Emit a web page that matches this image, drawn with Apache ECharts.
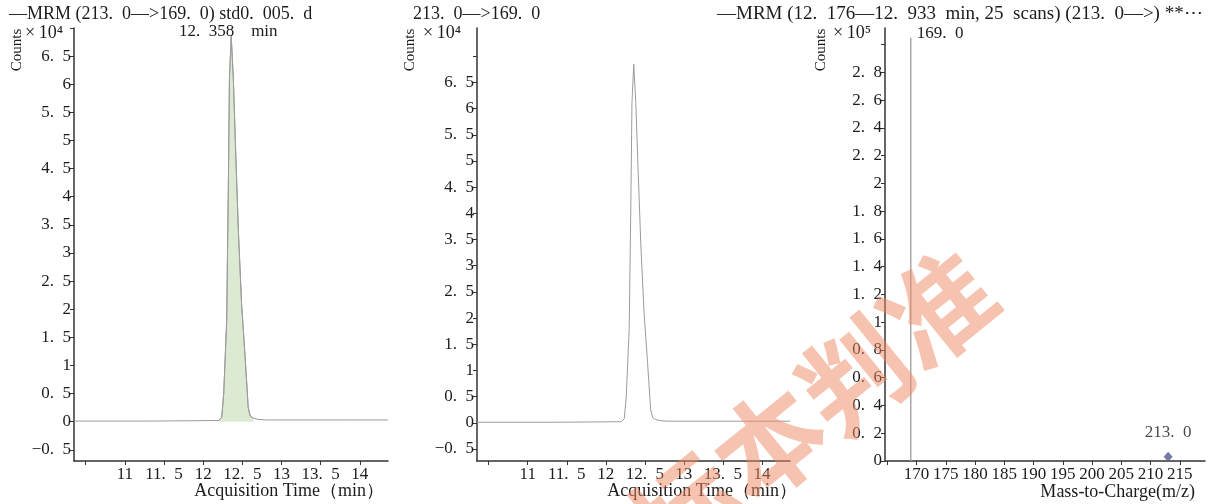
<!DOCTYPE html>
<html>
<head>
<meta charset="utf-8">
<script src="https://cdn.jsdelivr.net/npm/echarts@6/dist/echarts.min.js"></script>
<style>
  html, body { margin: 0; padding: 0; background: #ffffff; }
  #chart { width: 1219px; height: 504px; }
</style>
</head>
<body>
<div id="chart"></div>
<script>
// MRM 213.0 -> 169.0 chromatogram: retention time (min) and abundance (x10^4 counts)
const rtTimes  = [10.35, 10.80, 11.30, 11.80, 12.10, 12.200, 12.237, 12.262, 12.300, 12.322, 12.335, 12.358, 12.385, 12.410, 12.449, 12.490, 12.535, 12.575, 12.600, 12.640, 12.700, 12.800, 12.933, 13.30, 13.80, 14.36];
const rtCounts = [0.01, 0.01, 0.01, 0.015, 0.02, 0.02, 0.08, 0.50, 1.80, 4.30, 6.10, 6.85, 6.10, 5.00, 3.40, 2.10, 1.15, 0.25, 0.10, 0.06, 0.04, 0.03, 0.03, 0.03, 0.03, 0.03];

// integrated peak window (min) and apex retention time
const peakWindow = [12.200, 12.640];
const peakRt = 12.358;

// product-ion spectrum, 12.176-12.933 min: m/z and abundance (x10^5 counts)
const mzValues = [169.0, 213.0];
const mzCounts = [3.05, 0.03];

// tick values and labelled ticks
const rtTicks       = [10.5, 11, 11.5, 12, 12.5, 13, 13.5, 14];
const rtTickLabels  = [11, 11.5, 12, 12.5, 13, 13.5, 14];
const countTicksA   = [-0.5, 0, 0.5, 1, 1.5, 2, 2.5, 3, 3.5, 4, 4.5, 5, 5.5, 6, 6.5, 7];
const countLabelsA  = [-0.5, 0, 0.5, 1, 1.5, 2, 2.5, 3, 3.5, 4, 4.5, 5, 5.5, 6, 6.5];
const countTicksB   = [-0.5, 0, 0.5, 1, 1.5, 2, 2.5, 3, 3.5, 4, 4.5, 5, 5.5, 6, 6.5, 7];
const countLabelsB  = [-0.5, 0, 0.5, 1, 1.5, 2, 2.5, 3, 3.5, 4, 4.5, 5, 5.5, 6, 6.5];
const mzTicks       = [165, 170, 175, 180, 185, 190, 195, 200, 205, 210, 215];
const mzTickLabels  = [170, 175, 180, 185, 190, 195, 200, 205, 210, 215];
const specTicks     = [0, 0.2, 0.4, 0.6, 0.8, 1, 1.2, 1.4, 1.6, 1.8, 2, 2.2, 2.4, 2.6, 2.8, 3];
const specLabels    = [0, 0.2, 0.4, 0.6, 0.8, 1, 1.2, 1.4, 1.6, 1.8, 2, 2.2, 2.4, 2.6, 2.8];

const serif = '"Liberation Serif", "Times New Roman", serif';
const ink = '#1c1c1c';
const axisInk = '#333333';
const traceColor = '#9c9c9c';
const SP = '\u2002'; // en space after the decimal stop

// numbers are typeset as "6. 5" with a proper minus sign
function fmt(v) {
  return String(+(+v).toFixed(3)).replace('-', '\u2212').replace('.', '.' + SP);
}
function mzLabel(v) {
  return (+v).toFixed(1).replace('.', '.' + SP);
}

function valueAxis(gridIndex, min, max, ticks, labels, margin, formatter) {
  return {
    type: 'value', gridIndex: gridIndex, min: min, max: max,
    splitLine: { show: false },
    axisLine: { show: true, onZero: false, lineStyle: { color: axisInk, width: 1.5 } },
    axisTick: { show: true, length: 4, customValues: ticks, lineStyle: { color: axisInk, width: 1 } },
    axisLabel: { customValues: labels, formatter: formatter || fmt, color: ink, fontFamily: serif, fontSize: 17, margin: margin }
  };
}

const labelFont = { color: ink, fontFamily: serif, fontSize: 17 };

const rtData = rtTimes.map((t, i) => [t, rtCounts[i]]);
const peakData = rtData
  .filter(p => p[0] >= peakWindow[0] && p[0] <= peakWindow[1])
  .map(p => p[0] === peakRt
    ? { value: p, label: Object.assign({ show: true, position: 'top', distance: 0, offset: [-3, 4],
        formatter: fmt(peakRt) + SP + SP + 'min' }, labelFont) }
    : p);

// fragment ions are drawn as sticks, the residual precursor as a marker
const stickData = [];
const precursor = [];
mzValues.forEach((mz, i) => {
  if (mzCounts[i] > 0.5) {
    stickData.push([mz, 0]);
    stickData.push({ value: [mz, mzCounts[i]],
      label: Object.assign({ show: true, position: 'right', distance: 6, offset: [0, -4], formatter: mzLabel(mz) }, labelFont) });
    stickData.push([mz, null]);
  } else {
    precursor.push([mz, mzCounts[i]]);
  }
});

const chart = echarts.init(document.getElementById('chart'));

const titleFont = '18px ' + serif;
const captionFont = '18px ' + serif;

const option = {
  backgroundColor: '#ffffff',
  animation: false,
  grid: [
    { left: 74,  top: 28, width: 314, height: 433, outerBoundsMode: 'none' },
    { left: 477, top: 28, width: 313, height: 433, outerBoundsMode: 'none' },
    { left: 885, top: 28, width: 320, height: 433, outerBoundsMode: 'none' }
  ],
  xAxis: [
    valueAxis(0, 10.35, 14.36, rtTicks, rtTickLabels, 5),
    valueAxis(1, 10.35, 14.36, rtTicks, rtTickLabels, 5),
    valueAxis(2, 164.6, 219.3, mzTicks, mzTickLabels, 5, v => String(v))
  ],
  yAxis: [
    valueAxis(0, -0.7, 7.0, countTicksA, countLabelsA, 3),
    valueAxis(1, -0.73, 7.54, countTicksB, countLabelsB, 3),
    valueAxis(2, 0, 3.12, specTicks, specLabels, 3)
  ],
  series: [
    {
      type: 'line', xAxisIndex: 0, yAxisIndex: 0, data: rtData, showSymbol: false,
      lineStyle: { color: traceColor, width: 1 }, z: 3
    },
    {
      type: 'line', xAxisIndex: 0, yAxisIndex: 0, data: peakData, showSymbol: true, symbolSize: 0,
      lineStyle: { color: traceColor, width: 1 },
      areaStyle: { color: '#dce9d3', opacity: 1, origin: 0 }, z: 2
    },
    {
      type: 'line', xAxisIndex: 1, yAxisIndex: 1, data: rtData, showSymbol: false,
      lineStyle: { color: traceColor, width: 1 }
    },
    {
      type: 'line', xAxisIndex: 2, yAxisIndex: 2, data: stickData, showSymbol: true, symbolSize: 0, connectNulls: false,
      lineStyle: { color: '#a8a8a8', width: 1.5 }
    },
    {
      type: 'scatter', xAxisIndex: 2, yAxisIndex: 2, data: precursor, symbol: 'diamond', symbolSize: [9, 10],
      itemStyle: { color: '#555a8c' },
      label: Object.assign({ show: true, position: 'top', distance: 11, formatter: p => mzLabel(p.value[0]) }, labelFont)
    }
  ],
  graphic: [
    // panel titles
    { type: 'text', x: 9, y: 14, style: { text: '\u2014MRM (213.' + SP + '0\u2014>169.' + SP + '0) std0.' + SP + '005.' + SP + 'd', font: titleFont, fill: ink, textVerticalAlign: 'middle' } },
    { type: 'text', x: 413, y: 14, style: { text: '213.' + SP + '0\u2014>169.' + SP + '0', font: titleFont, fill: ink, textVerticalAlign: 'middle' } },
    { type: 'text', x: 717, y: 14, style: { text: '\u2014MRM (12.' + SP + '176\u201412.' + SP + '933' + SP + 'min, 25' + SP + 'scans) (213.' + SP + '0\u2014>) **\u22EF', font: '19px ' + serif, fill: ink, textVerticalAlign: 'middle' } },
    // y-axis captions
    { type: 'text', x: 17, y: 50, rotation: Math.PI / 2, style: { text: 'Counts', font: '15px ' + serif, fill: ink, textAlign: 'center', textVerticalAlign: 'middle' } },
    { type: 'text', x: 25, y: 33, style: { text: '\u00D7\u200910\u2074', font: '18px ' + serif, fill: ink, textVerticalAlign: 'middle' } },
    { type: 'text', x: 410, y: 50, rotation: Math.PI / 2, style: { text: 'Counts', font: '15px ' + serif, fill: ink, textAlign: 'center', textVerticalAlign: 'middle' } },
    { type: 'text', x: 423, y: 33, style: { text: '\u00D7\u200910\u2074', font: '18px ' + serif, fill: ink, textVerticalAlign: 'middle' } },
    { type: 'text', x: 821, y: 50, rotation: Math.PI / 2, style: { text: 'Counts', font: '15px ' + serif, fill: ink, textAlign: 'center', textVerticalAlign: 'middle' } },
    { type: 'text', x: 833, y: 33, style: { text: '\u00D7\u200910\u2075', font: '18px ' + serif, fill: ink, textVerticalAlign: 'middle' } },
    // x-axis captions
    { type: 'text', x: 384, y: 491, style: { text: 'Acquisition Time\uFF08min\uFF09', font: captionFont, fill: ink, textAlign: 'right', textVerticalAlign: 'middle' } },
    { type: 'text', x: 797, y: 491, style: { text: 'Acquisition Time\uFF08min\uFF09', font: captionFont, fill: ink, textAlign: 'right', textVerticalAlign: 'middle' } },
    { type: 'text', x: 1195, y: 492, style: { text: 'Mass-to-Charge(m/z)', font: captionFont, fill: ink, textAlign: 'right', textVerticalAlign: 'middle' } },
    // watermark
    { type: 'text', x: 812, y: 410, rotation: 0.68, z: 100, silent: true,
      style: { text: '\u6807\u672C\u5224\u51C6', font: 'bold 108px "Noto Sans CJK SC"', fill: 'rgba(240,135,100,0.5)', textAlign: 'center', textVerticalAlign: 'middle' } }
  ]
};

chart.setOption(option);
</script>
</body>
</html>
